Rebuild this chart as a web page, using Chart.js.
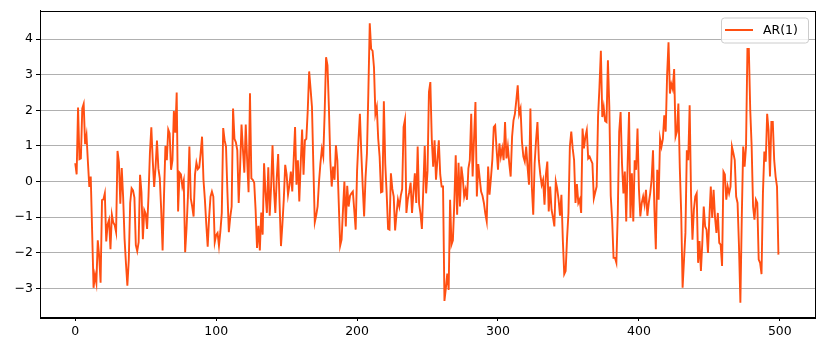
<!DOCTYPE html>
<html lang="en">
<head>
  <meta charset="UTF-8">
  <title>AR(1)</title>
  <script src="https://cdn.jsdelivr.net/npm/chart.js"></script>
  <style>
    body {
      margin: 0;
      padding: 0;
      background-color: #fff;
    }
    .chart-box {
      width: 825px;
      height: 351px;
    }
  </style>
</head>
<body>
  <div class="chart-box">
    <canvas id="arChart"></canvas>
  </div>

  <script>
    // series
    const seriesLabel = 'AR(1)';
    const arValues = [
      0.52, 0.20, 2.08, 0.63, 0.65, 2.05, 2.18, 1.05, 1.30, 0.55,
      -0.15, 0.14, -1.40, -2.98, -2.62, -2.85, -1.65, -2.10, -2.84, -0.52,
      -0.50, -0.33, -1.68, -1.20, -1.07, -1.90, -0.93, -1.15, -1.22, -1.42,
      0.86, 0.55, -0.62, 0.38, -0.44, -1.60, -2.30, -2.92, -2.20, -0.60,
      -0.19, -0.25, -0.45, -1.78, -1.95, -1.70, 0.19, -0.30, -1.62, -0.80,
      -0.90, -1.33, -0.40, 0.80, 1.52, 0.60, -0.15, 0.40, 1.15, 0.37,
      0.10, -0.80, -1.93, -0.40, 1.00, 0.60, 1.46, 1.35, 0.33, 0.60,
      1.98, 1.37, 2.50, -0.84, 0.25, 0.20, -0.14, 0.03, -1.98, -1.30,
      -0.40, 0.98, -0.47, -0.70, -0.98, 0.20, 0.53, 0.35, 0.40, 0.80,
      1.26, 0.05, -0.50, -1.20, -1.83, -1.00, -0.42, -0.28, -0.42, -1.70,
      -1.50, -1.44, -1.80, -1.40, -0.88, 1.50, 1.16, 0.98, -0.30, -1.42,
      -1.00, -0.70, 2.05, 1.20, 1.10, 0.88, -0.60, 0.40, 1.60, 0.90,
      0.25, 1.60, 0.60, -0.30, 2.48, 0.09, 0.05, -0.03, -0.80, -1.86,
      -1.24, -1.93, -0.87, -1.49, 0.51, -0.30, -0.88, 0.40, -0.96, -0.14,
      1.02, -0.20, -0.88, 0.10, 0.77, -0.60, -1.81, -1.20, -0.50, 0.47,
      0.20, -0.37, -0.10, 0.28, -0.28, 0.60, 1.53, -0.09, 0.60, -0.56,
      0.50, 1.46, 0.19, 1.16, 1.20, 2.00, 3.09, 2.60, 2.09, 0.40,
      -1.14, -0.95, -0.70, 0.00, 0.51, 0.91, 0.70, 1.93, 3.49, 3.26,
      2.09, 0.60, -0.14, 0.42, 0.05, 1.02, 0.60, -0.60, -1.80, -1.63,
      -0.80, 0.00, -1.26, -0.12, -0.70, -0.40, -0.33, -0.28, -0.80, -1.35,
      0.30, 1.16, 1.90, 0.80, -0.14, -0.98, 0.10, 0.79, 2.50, 4.44,
      3.72, 3.67, 3.20, 1.90, 2.09, 1.20, 0.70, -0.30, -0.28, 2.25,
      0.50, -0.33, -1.33, -1.35, 0.23, -0.20, -0.42, -1.37, -0.90, -0.51,
      -0.70, -0.40, -0.21, 1.53, 1.74, -0.88, -0.50, -0.30, -0.03, -0.88,
      -0.30, 0.23, -0.60, 0.98, -0.62, -0.90, -1.33, -0.20, 1.00, -0.33,
      0.30, 2.51, 2.79, 1.20, 0.42, 1.16, 0.05, 0.60, 1.16, 0.20,
      -0.14, -0.14, -3.35, -3.00, -2.58, -3.04, -0.51, -1.77, -1.65, -0.60,
      0.74, -0.93, 0.53, -0.70, 0.42, 0.10, -0.42, -0.23, -0.51, 0.37,
      0.60, 1.90, 0.14, 1.20, 2.23, -0.42, 0.49, 0.10, -0.28, -0.40,
      -0.60, -0.90, -1.12, 0.42, -0.37, 0.10, 0.62, 1.53, 1.58, 0.90,
      0.33, 1.07, 0.70, 0.93, 0.60, 1.67, 0.65, 0.98, 0.50, 0.14,
      1.26, 1.72, 1.90, 2.28, 2.70, 1.90, 2.05, 1.12, 0.70, 0.56,
      0.98, 0.40, -0.09, 2.05, -0.14, -0.93, 0.50, 1.16, 1.67, 0.60,
      0.20, -0.09, 0.05, -0.65, 0.20, 0.56, -0.84, -0.14, -0.79, -1.00,
      -1.26, 0.00, -0.20, -0.51, -0.96, -0.37, -1.63, -2.60, -2.51, -1.60,
      -0.88, 0.98, 1.40, 0.93, 0.60, -0.60, -0.07, -0.60, -0.50, -0.88,
      1.49, 0.93, 1.26, 1.44, 0.65, 0.70, 0.60, 0.51, -0.47, -0.30,
      -0.14, 1.81, 2.65, 3.67, 1.81, 2.09, 1.70, 1.67, 3.40, 2.09,
      -0.40, -1.07, -2.14, -2.14, -2.28, -0.90, 1.40, 1.95, 0.50, -0.33,
      0.28, -1.12, 0.50, 1.95, -1.02, 0.23, -1.12, 0.60, 0.33, 1.49,
      -0.20, -0.98, -0.60, -0.42, -0.65, -0.23, -0.96, -0.60, -0.33, 0.05,
      0.88, -0.80, -1.90, 0.33, -0.51, 1.20, 0.98, 1.20, 1.86, 1.40,
      2.98, 3.91, 2.47, 2.74, 2.60, 3.16, 1.26, 1.40, 2.19, 0.40,
      -0.88, -2.98, -2.20, -1.44, 0.88, 0.60, 2.14, -0.40, -1.63, -0.79,
      -0.42, -0.33, -2.28, -1.67, -2.51, -1.70, -0.70, -1.26, -1.35, -2.00,
      -1.00, -0.14, -1.02, -0.23, -1.00, -1.44, -0.88, -1.72, -1.77, -2.37,
      0.28, 0.20, -0.51, -0.14, -0.33, -0.14, 0.98, 0.80, 0.60, -0.42,
      -0.60, -1.80, -3.40, -1.00, 0.98, 0.42, 0.98, 3.72, 3.72, 2.00,
      0.98, -0.70, -1.07, -0.51, -0.60, -2.19, -2.28, -2.60, -0.33, 0.84,
      0.56, 1.90, 1.44, 0.14, 1.67, 1.67, 0.60, 0.14, -0.14, -2.05
    ];
    const xTicks = [0, 100, 200, 300, 400, 500];
    const yTicks = [-3, -2, -1, 0, 1, 2, 3, 4];

    const font = { family: 'DejaVu Sans', size: 12.5 };
    const minus = v => String(v).replace('-', '\u2212');

    // black frame round the plot area, like the matplotlib axes box
    const frameBox = {
      id: 'frameBox',
      afterDraw(chart) {
        const a = chart.chartArea;
        const c = chart.ctx;
        c.save();
        c.strokeStyle = '#000';
        c.lineWidth = 1;
        c.strokeRect(Math.round(a.left) + 0.5, Math.round(a.top) + 0.5,
          Math.round(a.right - a.left), Math.round(a.bottom - a.top));
        c.restore();
      }
    };

    // legend box in the upper right corner
    const cornerLegend = {
      id: 'cornerLegend',
      afterDraw(chart) {
        const a = chart.chartArea;
        const c = chart.ctx;
        const ds = chart.data.datasets[0];
        const w = 87, h = 25;
        const x = a.right - 7 - w, y = a.top + 7;
        c.save();
        c.fillStyle = 'rgba(255,255,255,0.8)';
        c.strokeStyle = '#cccccc';
        c.lineWidth = 1;
        c.beginPath();
        c.roundRect(x + 0.5, y + 0.5, w, h, 3);
        c.fill();
        c.stroke();
        c.strokeStyle = ds.borderColor;
        c.lineWidth = 2;
        c.beginPath();
        c.moveTo(x + 4, y + 12.5);
        c.lineTo(x + 32, y + 12.5);
        c.stroke();
        c.fillStyle = '#000';
        c.font = '12.5px "DejaVu Sans"';
        c.textBaseline = 'middle';
        c.fillText(ds.label, x + 42, y + 13);
        c.restore();
      }
    };

    const ctx = document.getElementById('arChart').getContext('2d');
    const arChart = new Chart(ctx, {
      type: 'line',
      data: {
        datasets: [{
          label: seriesLabel,
          data: arValues.map((v, i) => ({ x: i, y: v })),
          borderColor: '#ff4f12',
          borderWidth: 1.9,
          pointRadius: 0,
          tension: 0,
          fill: false
        }]
      },
      options: {
        responsive: true,
        maintainAspectRatio: false,
        animation: false,
        layout: { padding: { top: 9, right: 10, left: 0, bottom: 0 } },
        plugins: {
          legend: { display: false },
          tooltip: { enabled: false }
        },
        scales: {
          x: {
            type: 'linear',
            min: -25,
            max: 524.95,
            afterBuildTicks: s => { s.ticks = xTicks.map(v => ({ value: v })); },
            afterFit: s => { s.height = 34; },
            grid: { drawOnChartArea: false, tickColor: '#000', tickLength: 4 },
            border: { color: '#000' },
            ticks: { color: '#000', font: font, padding: 3, maxRotation: 0 }
          },
          y: {
            min: -3.8,
            max: 4.8,
            afterBuildTicks: s => { s.ticks = yTicks.map(v => ({ value: v })); },
            afterFit: s => { s.width = 40; },
            grid: { color: '#b0b0b0', lineWidth: 1, tickColor: '#000', tickLength: 4 },
            border: { color: '#000' },
            ticks: { color: '#000', font: font, padding: 3, callback: v => minus(v) }
          }
        }
      },
      plugins: [frameBox, cornerLegend]
    });
  </script>
</body>
</html>
